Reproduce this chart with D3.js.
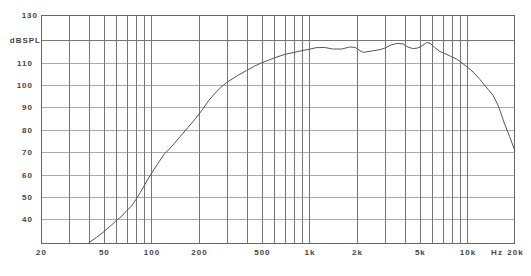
<!DOCTYPE html>
<html>
<head>
<meta charset="utf-8">
<script src="https://cdn.jsdelivr.net/npm/d3@7"></script>
<style>
  body { margin: 0; background: #fff; }
  text { font-family: "Liberation Sans", Arial, sans-serif; font-weight: bold; font-size: 8px; letter-spacing: 1px; fill: #444; }
</style>
</head>
<body>
<div id="viz"></div>
<script>
// frequency response
var freqs = [40, 45, 50, 55, 60, 65, 70, 75, 80, 85, 90, 95, 100, 110, 120, 130, 140, 150, 170, 190,
	210, 230, 250, 275, 300, 350, 400, 450, 500, 560, 620, 700, 800, 900, 1000, 1100, 1250, 1400, 1600, 1800,
	1950, 2100, 2200, 2500, 2800, 3000, 3300, 3600, 3900, 4200, 4500, 4800, 5100, 5500, 5800, 6200, 6700, 7300,
	7800, 8500, 9000, 10000, 11000, 12000, 13000, 14500, 15500, 16200, 17000, 18500, 20000];
var spl = [29.5, 32, 34.5, 37, 39.5, 41.5, 44, 46, 49, 52, 55, 58, 60.5, 65, 69, 71.5, 74, 76.5, 81, 85,
	89, 93, 96, 99, 101.2, 104.2, 106.5, 108.5, 110, 111.3, 112.5, 113.7, 114.6, 115.4, 116, 116.7, 116.8, 116.1, 116.1, 117,
	116.8, 115.3, 114.6, 115.3, 115.8, 116.5, 118, 118.6, 118.4, 117, 116.3, 116.5, 117.2, 119, 118.7, 116.8, 115, 113.9,
	112.9, 111.7, 110.5, 108, 105.5, 102.5, 99.5, 95.5, 91.5, 88, 83.5, 77, 70.5];

var xGrid = [30, 40, 50, 60, 70, 80, 90, 100, 200, 300, 400, 500, 600, 700, 800, 900, 1000,
	2000, 3000, 4000, 5000, 6000, 7000, 8000, 9000, 10000];
var xTicks = [20, 50, 100, 200, 500, 1000, 2000, 5000, 10000, 20000];
var xTickLabels = ["20", "50", "100", "200", "500", "1k", "2k", "5k", "10k", "20k"];
var yTicks = [40, 50, 60, 70, 80, 90, 100, 110, 120];

var width = 531, height = 276;
var margin = {top: 15, right: 16, bottom: 32, left: 41};

var x = d3.scaleLog().domain([20, 20000]).range([margin.left, width - margin.right]);
var y = d3.scaleLinear().domain([29, 131.3]).range([height - margin.bottom, margin.top]);

var svg = d3.select('#viz')
	.append('svg')
		.attr('width', width)
		.attr('height', height);

var grid = svg.append('g')
	.attr('shape-rendering', 'crispEdges');

grid.selectAll('.hline')
	.data(yTicks)
	.enter().append('line')
		.attr('x1', margin.left)
		.attr('x2', width - margin.right)
		.attr('y1', function(d) { return Math.round(y(d)) + 0.5; })
		.attr('y2', function(d) { return Math.round(y(d)) + 0.5; })
		.style('stroke', function(d) { return d == 120 ? '#777' : '#aaa'; })
		.style('stroke-width', 1);

grid.selectAll('.vline')
	.data(xGrid)
	.enter().append('line')
		.attr('x1', function(d) { return Math.round(x(d)) + 0.5; })
		.attr('x2', function(d) { return Math.round(x(d)) + 0.5; })
		.attr('y1', margin.top)
		.attr('y2', height - margin.bottom)
		.style('stroke', '#777')
		.style('stroke-width', 1);

// frame
grid.append('rect')
	.attr('x', margin.left + 0.5)
	.attr('y', margin.top + 0.5)
	.attr('width', width - margin.left - margin.right - 1)
	.attr('height', height - margin.top - margin.bottom - 1)
	.style('fill', 'none')
	.style('stroke', '#666');

var line = d3.line()
	.x(function(d) { return x(d[0]); })
	.y(function(d) { return y(d[1]); });

svg.append('path')
	.datum(d3.zip(freqs, spl))
	.attr('d', line)
	.style('fill', 'none')
	.style('stroke', '#555')
	.style('stroke-width', 1);

// y labels
svg.selectAll('.ylab')
	.data(yTicks.filter(function(d) { return d != 120; }))
	.enter().append('text')
		.attr('x', 33)
		.attr('y', function(d) { return y(d) + 3; })
		.attr('text-anchor', 'end')
		.text(function(d) { return d; });

svg.append('text')
	.attr('x', 38)
	.attr('y', margin.top + 3)
	.attr('text-anchor', 'end')
	.text('130');

svg.append('text')
	.attr('x', 41)
	.attr('y', y(120) + 3)
	.attr('text-anchor', 'end')
	.text('dBSPL');

// x labels
svg.selectAll('.xlab')
	.data(xTicks)
	.enter().append('text')
		.attr('x', function(d) { return x(d) + 0.5; })
		.attr('y', 255)
		.attr('text-anchor', 'middle')
		.text(function(d, i) { return xTickLabels[i]; });

svg.append('text')
	.attr('x', 497)
	.attr('y', 255)
	.attr('text-anchor', 'middle')
	.text('Hz');
</script>
</body>
</html>
